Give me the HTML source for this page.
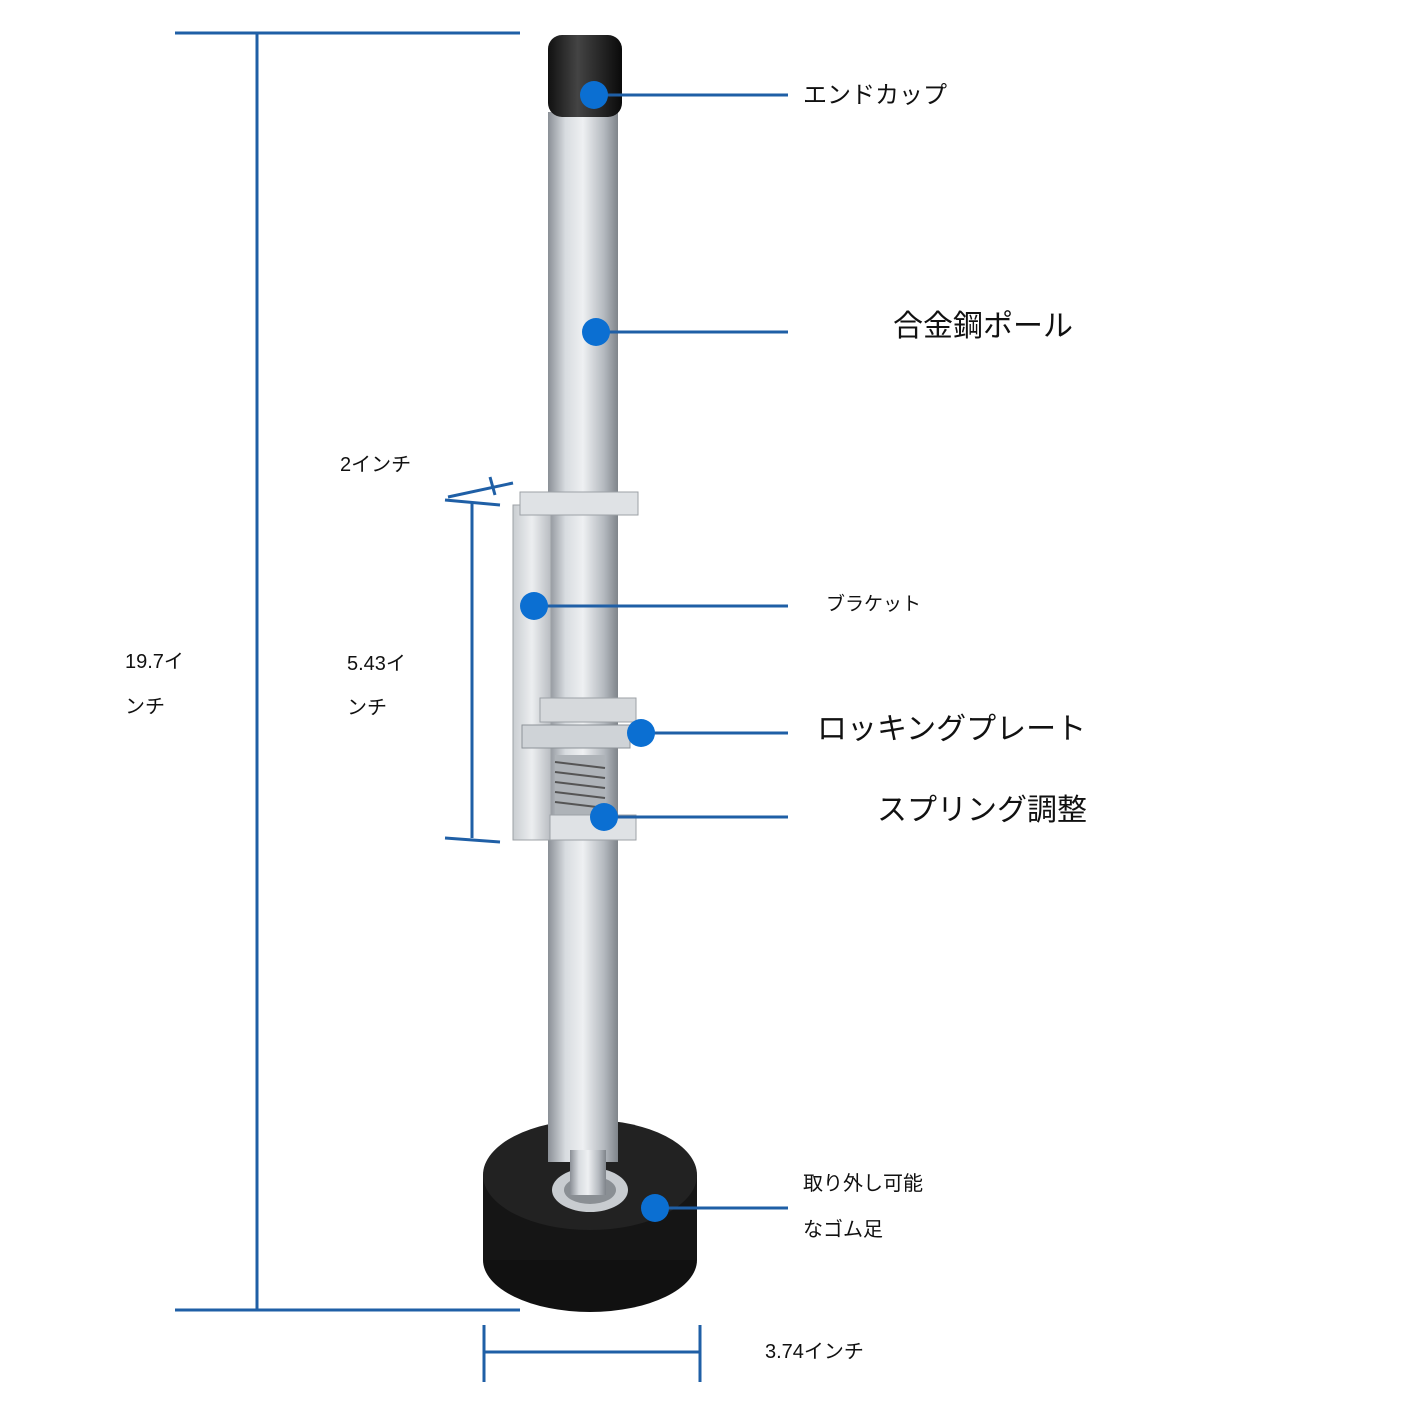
<!DOCTYPE html>
<html><head><meta charset="utf-8">
<style>
html,body{margin:0;padding:0;background:#fff;}
svg{display:block;}
text{font-family:"Liberation Sans","Noto Sans CJK JP",sans-serif;fill:#111;}
</style></head>
<body>
<svg width="1414" height="1413" viewBox="0 0 1414 1413" xmlns="http://www.w3.org/2000/svg">
<defs>
<linearGradient id="pole" x1="0" x2="1" y1="0" y2="0">
<stop offset="0" stop-color="#8a8f96"/>
<stop offset="0.25" stop-color="#d8dce0"/>
<stop offset="0.5" stop-color="#eef0f2"/>
<stop offset="0.8" stop-color="#b4b9bf"/>
<stop offset="1" stop-color="#7f848a"/>
</linearGradient>
<linearGradient id="plate" x1="0" x2="1" y1="0" y2="0">
<stop offset="0" stop-color="#c9cdd1"/>
<stop offset="0.5" stop-color="#eceef0"/>
<stop offset="1" stop-color="#b8bcc1"/>
</linearGradient>
<linearGradient id="cap" x1="0" x2="1">
<stop offset="0" stop-color="#111"/>
<stop offset="0.4" stop-color="#444"/>
<stop offset="1" stop-color="#0a0a0a"/>
</linearGradient>
</defs>
<g stroke="#1f5fa6" stroke-width="3" fill="none">
<line x1="175" y1="33" x2="520" y2="33"/>
<line x1="175" y1="1310" x2="520" y2="1310"/>
<line x1="257" y1="33" x2="257" y2="1310"/>
<line x1="472" y1="503" x2="472" y2="838"/>
<line x1="445" y1="838" x2="500" y2="842"/>
<line x1="445" y1="500" x2="500" y2="505"/>
<line x1="448" y1="497" x2="513" y2="483"/>
<line x1="490" y1="477" x2="495" y2="495"/>
<line x1="484" y1="1352" x2="700" y2="1352"/>
<line x1="484" y1="1325" x2="484" y2="1382"/>
<line x1="700" y1="1325" x2="700" y2="1382"/>
</g>
<!-- base -->
<ellipse cx="590" cy="1260" rx="107" ry="52" fill="#111"/>
<rect x="483" y="1175" width="214" height="85" fill="#151515"/>
<ellipse cx="590" cy="1175" rx="107" ry="55" fill="#222"/>
<ellipse cx="590" cy="1190" rx="38" ry="22" fill="#c8ccd0"/>
<ellipse cx="590" cy="1190" rx="26" ry="14" fill="#8a8f94"/>
<!-- pole -->
<rect x="548" y="112" width="70" height="1050" fill="url(#pole)"/>
<rect x="570" y="1150" width="36" height="45" fill="url(#pole)"/>
<!-- cap -->
<rect x="548" y="35" width="74" height="82" rx="14" fill="url(#cap)"/>
<!-- bracket -->
<rect x="513" y="505" width="38" height="335" fill="url(#plate)" stroke="#9ca1a6"/>
<polygon points="520,492 638,492 638,515 520,515" fill="#dfe2e5" stroke="#9ca1a6"/>
<polygon points="540,698 636,698 636,722 540,722" fill="#d6d9dc" stroke="#9ca1a6"/>
<polygon points="522,725 630,725 630,748 522,748" fill="#cfd3d7" stroke="#8e9398"/>
<rect x="555" y="755" width="50" height="60" fill="#aeb3b8"/>
<g stroke="#555" stroke-width="2">
<line x1="555" y1="762" x2="605" y2="768"/><line x1="555" y1="772" x2="605" y2="778"/>
<line x1="555" y1="782" x2="605" y2="788"/><line x1="555" y1="792" x2="605" y2="798"/>
<line x1="555" y1="802" x2="605" y2="808"/>
</g>
<polygon points="550,815 636,815 636,840 550,840" fill="#dfe2e5" stroke="#9ca1a6"/>
<!-- connectors -->
<g stroke="#1f5fa6" stroke-width="3">
<line x1="594" y1="95" x2="788" y2="95"/>
<line x1="596" y1="332" x2="788" y2="332"/>
<line x1="534" y1="606" x2="788" y2="606"/>
<line x1="641" y1="733" x2="788" y2="733"/>
<line x1="604" y1="817" x2="788" y2="817"/>
<line x1="655" y1="1208" x2="788" y2="1208"/>
</g>
<g fill="#0b6fd2">
<circle cx="594" cy="95" r="14"/>
<circle cx="596" cy="332" r="14"/>
<circle cx="534" cy="606" r="14"/>
<circle cx="641" cy="733" r="14"/>
<circle cx="604" cy="817" r="14"/>
<circle cx="655" cy="1208" r="14"/>
</g>
<!-- labels -->
<text x="803" y="103" font-size="24">エンドカップ</text>
<text x="893" y="336" font-size="30">合金鋼ポール</text>
<text x="826" y="610" font-size="19">ブラケット</text>
<text x="817" y="739" font-size="30">ロッキングプレート</text>
<text x="877" y="820" font-size="30">スプリング調整</text>
<text x="803" y="1190" font-size="20">取り外し可能</text>
<text x="803" y="1236" font-size="20">なゴム足</text>
<text x="340" y="471" font-size="20">2インチ</text>
<text x="125" y="668" font-size="20">19.7イ</text>
<text x="125" y="713" font-size="20">ンチ</text>
<text x="347" y="670" font-size="20">5.43イ</text>
<text x="347" y="714" font-size="20">ンチ</text>
<text x="765" y="1358" font-size="20">3.74インチ</text>
</svg>
</body></html>
